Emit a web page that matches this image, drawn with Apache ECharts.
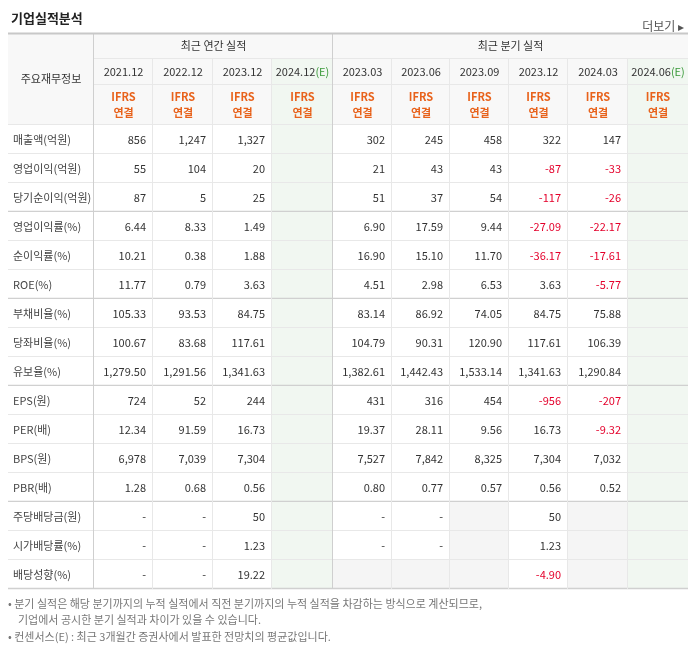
<!DOCTYPE html>
<html><head><meta charset="utf-8">
<script src="https://cdn.jsdelivr.net/npm/echarts@6/dist/echarts.min.js"></script>
<style>html,body{margin:0;padding:0;background:#fff}#c{width:694px;height:648px}</style>
</head><body><div id="c"></div>
<script>
const annualPeriods = ['2021.12','2022.12','2023.12','2024.12(E)'];
const quarterPeriods = ['2023.03','2023.06','2023.09','2023.12','2024.03','2024.06(E)'];
const rowLabels = ['매출액(억원)','영업이익(억원)','당기순이익(억원)','영업이익률(%)','순이익률(%)','ROE(%)','부채비율(%)','당좌비율(%)','유보율(%)','EPS(원)','PER(배)','BPS(원)','PBR(배)','주당배당금(원)','시가배당률(%)','배당성향(%)'];
// null = 빈 회색 칸, '' = 빈 칸
const annualValues = [
 ['856','1,247','1,327',''],['55','104','20',''],['87','5','25',''],
 ['6.44','8.33','1.49',''],['10.21','0.38','1.88',''],['11.77','0.79','3.63',''],
 ['105.33','93.53','84.75',''],['100.67','83.68','117.61',''],['1,279.50','1,291.56','1,341.63',''],
 ['724','52','244',''],['12.34','91.59','16.73',''],['6,978','7,039','7,304',''],['1.28','0.68','0.56',''],
 ['-','-','50',''],['-','-','1.23',''],['-','-','19.22','']];
const quarterValues = [
 ['302','245','458','322','147',''],['21','43','43','-87','-33',''],['51','37','54','-117','-26',''],
 ['6.90','17.59','9.44','-27.09','-22.17',''],['16.90','15.10','11.70','-36.17','-17.61',''],['4.51','2.98','6.53','3.63','-5.77',''],
 ['83.14','86.92','74.05','84.75','75.88',''],['104.79','90.31','120.90','117.61','106.39',''],['1,382.61','1,442.43','1,533.14','1,341.63','1,290.84',''],
 ['431','316','454','-956','-207',''],['19.37','28.11','9.56','16.73','-9.32',''],['7,527','7,842','8,325','7,304','7,032',''],['0.80','0.77','0.57','0.56','0.52',''],
 ['-','-',null,'50',null,''],['-','-',null,'1.23',null,''],[null,null,null,'-4.90',null,'']];

const colEdges=[0,86,145,205,264,325,384,442,501,560,620,680];
const rowEdges=[0,26,52,92];
for(let i=0;i<rowLabels.length;i++) rowEdges.push(92+29*(i+1));
const H=rowEdges[rowEdges.length-1];
const estCols=[4,10];
const FONT='"Noto Sans CJK KR","Noto Sans",sans-serif';
const cells=[];
function add(c0,c1,r0,r1,text,opt){cells.push(Object.assign({c0,c1,r0,r1,text},opt||{}));}
add(0,1,0,3,'주요재무정보',{bg:'#f8f8f8',align:'center',color:'#333'});
add(1,5,0,1,'최근 연간 실적',{bg:'#f8f8f8',align:'center',color:'#333'});
add(5,11,0,1,'최근 분기 실적',{bg:'#f8f8f8',align:'center',color:'#333'});
const periods=annualPeriods.concat(quarterPeriods);
periods.forEach((p,i)=>{const est=estCols.includes(i+1);
 add(i+1,i+2,1,2,p,{bg:est?'#f1f7f1':'#f8f8f8',align:'center',color:'#333',est:est});
 add(i+1,i+2,2,3,'IFRS\n연결',{bg:est?'#f1f7f1':'#f8f8f8',align:'center',color:'#e8621b',bold:true});
});
rowLabels.forEach((lab,r)=>{
 add(0,1,r+3,r+4,lab,{bg:'#fff',align:'left',color:'#444'});
 const vals=annualValues[r].concat(quarterValues[r]);
 vals.forEach((v,i)=>{const est=estCols.includes(i+1);
  add(i+1,i+2,r+3,r+4,v===null?'':v,{bg:est?'#f1f7f1':(v===null?'#f5f5f5':'#fff'),align:'right',color:(v&&v[0]==='-'&&v.length>1)?'#e4002b':'#333'});
 });
});
const thick=[3,6,9,13,16].map(x=>x+3);
const chart=echarts.init(document.getElementById('c'));
chart.setOption({
 animation:false,
 grid:{left:8,right:6,top:33,bottom:648-33-H},
 xAxis:{type:'value',min:0,max:680,show:false},
 yAxis:{type:'value',min:0,max:H,inverse:true,show:false},
 title:[{text:'기업실적분석',left:6,top:7,textStyle:{fontFamily:FONT,fontSize:13,fontWeight:'bold',color:'#222'}},
  {text:'더보기 ▸',right:5,top:15,textStyle:{fontFamily:FONT,fontSize:12,fontWeight:'normal',color:'#555'}}],
 graphic:[
  {type:'text',left:8,top:598,style:{text:'• 분기 실적은 해당 분기까지의 누적 실적에서 직전 분기까지의 누적 실적을 차감하는 방식으로 계산되므로,',font:'11px '+FONT,fill:'#777'}},
  {type:'text',left:18,top:614,style:{text:'기업에서 공시한 분기 실적과 차이가 있을 수 있습니다.',font:'11px '+FONT,fill:'#777'}},
  {type:'text',left:8,top:631,style:{text:'• 컨센서스(E) : 최근 3개월간 증권사에서 발표한 전망치의 평균값입니다.',font:'11px '+FONT,fill:'#777'}}
 ],
 series:[{type:'custom',data:cells.map((c,i)=>[i]),renderItem:(params,api)=>{
  const c=cells[params.dataIndex];
  const p0=api.coord([colEdges[c.c0],rowEdges[c.r0]]),p1=api.coord([colEdges[c.c1],rowEdges[c.r1]]);
  const w=p1[0]-p0[0],h=p1[1]-p0[1];
  const ch=[{type:'rect',shape:{x:p0[0],y:p0[1],width:w,height:h},style:{fill:c.bg}}];
  const tx=c.align==='left'?p0[0]+5:c.align==='right'?p1[0]-7:p0[0]+w/2;
  let rich={};let text=c.text;
  if(c.est){text=text.replace('(E)','{g|(E)}');rich={g:{fill:'#3a9a3a',font:'11px '+FONT}};}
  ch.push({type:'text',style:{text:text,x:tx,y:p0[1]+h/2,align:c.align,verticalAlign:'middle',fill:c.color,font:(c.bold?'bold ':'')+'11px '+FONT,lineHeight:16,rich:rich}});
  const rc=thick.includes(c.r1)?'#d0d0d0':'#e8e8e8';
  ch.push({type:'line',shape:{x1:p0[0],y1:p1[1]-0.5,x2:p1[0],y2:p1[1]-0.5},style:{stroke:rc,lineWidth:thick.includes(c.r1)?1.5:1}});
  if(c.c1<11){const vc=(c.c1===1||c.c1===5)?'#cfcfcf':'#e8e8e8';
   ch.push({type:'line',shape:{x1:p1[0]-0.5,y1:p0[1],x2:p1[0]-0.5,y2:p1[1]},style:{stroke:vc,lineWidth:1}});}
  if(c.r0===0) ch.push({type:'line',shape:{x1:p0[0],y1:p0[1]+0.5,x2:p1[0],y2:p0[1]+0.5},style:{stroke:'#c8c8c8',lineWidth:2}});
  return {type:'group',children:ch};
 }}]
});
</script></body></html>
